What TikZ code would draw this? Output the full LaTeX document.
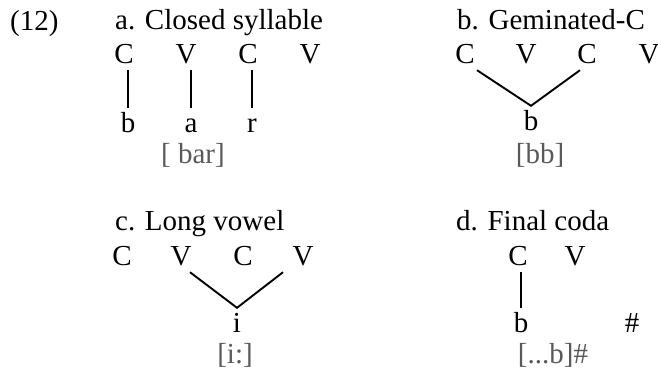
\documentclass[tikz,border=0pt]{standalone}
\usepackage{fontspec}
\setmainfont{Liberation Serif}
\usetikzlibrary{positioning}
\tikzset{
	x=1pt, y=-1pt,
	every node/.style={font=\fontsize{29}{34}\selectfont, inner sep=3pt},
	tier/.style={text height=21pt, text depth=4pt},
	title/.style={anchor=base west},
	form/.style={anchor=base, text=black!65},
	assoc/.style={line width=1.9pt}}

\begin{document}
\begin{tikzpicture}
	\useasboundingbox (0,0) rectangle (658,375);

	\node[title] (ex) at (7,30) {(12)};

	% a. closed syllable
	\node[title] (a-head) at (112,29) {a. Closed syllable};
	\node[tier, anchor=base] (a-c1) at (124,63) {C};
	\node[tier, right of=a-c1, node distance=62pt] (a-v1) {V};
	\node[tier, right of=a-v1, node distance=62pt] (a-c2) {C};
	\node[tier, right of=a-c2, node distance=62pt] (a-v2) {V};
	\node[tier, anchor=base] (a-b) at (128,132) {b};
	\node[tier, anchor=base] (a-a) at (191,132) {a};
	\node[tier, anchor=base] (a-r) at (252,132) {r};
	\node[form] (a-form) at (193,163) {[ bar]};
	\draw[assoc]
	(a-b.north) -- (a-b.north |- a-c1.south)
	(a-a.north) -- (a-a.north |- a-v1.south)
	(a-r.north) -- (a-r.north |- a-c2.south)
	;

	% b. geminated consonant
	\node[title] (b-head) at (454,29) {b. Geminated-C};
	\node[tier, anchor=base] (b-c1) at (465,63) {C};
	\node[tier, right of=b-c1, node distance=61pt] (b-v1) {V};
	\node[tier, right of=b-v1, node distance=61pt] (b-c2) {C};
	\node[tier, right of=b-c2, node distance=62pt] (b-v2) {V};
	\node[tier, anchor=base] (b-b) at (531,130) {b};
	\node[form] (b-form) at (540,163) {[bb]};
	\draw[assoc] ([xshift=12pt]b-c1.south) -- (b-b.north) -- ([xshift=-7pt]b-c2.south);

	% c. long vowel
	\node[title] (c-head) at (112,230) {c. Long vowel};
	\node[tier, anchor=base] (c-c1) at (122,265) {C};
	\node[tier, right of=c-c1, node distance=59pt] (c-v1) {V};
	\node[tier, right of=c-v1, node distance=62pt] (c-c2) {C};
	\node[tier, right of=c-c2, node distance=60pt] (c-v2) {V};
	\node[tier, anchor=base] (c-i) at (237,332) {i};
	\node[form] (c-form) at (235,363) {[i:]};
	\draw[assoc] ([xshift=9pt]c-v1.south) -- (c-i.north) -- ([xshift=-20pt]c-v2.south);

	% d. final coda
	\node[title] (d-head) at (453,230) {d. Final coda};
	\node[tier, anchor=base] (d-c1) at (518,265) {C};
	\node[tier, right of=d-c1, node distance=57pt] (d-v1) {V};
	\node[tier, anchor=base] (d-b) at (521,332) {b};
	\node[tier, anchor=base] (d-bd) at (632,332) {\#};
	\node[form] (d-form) at (553,363) {[...b]\#};
	\draw[assoc] (d-b.north) -- (d-b.north |- d-c1.south);
\end{tikzpicture}
\end{document}
